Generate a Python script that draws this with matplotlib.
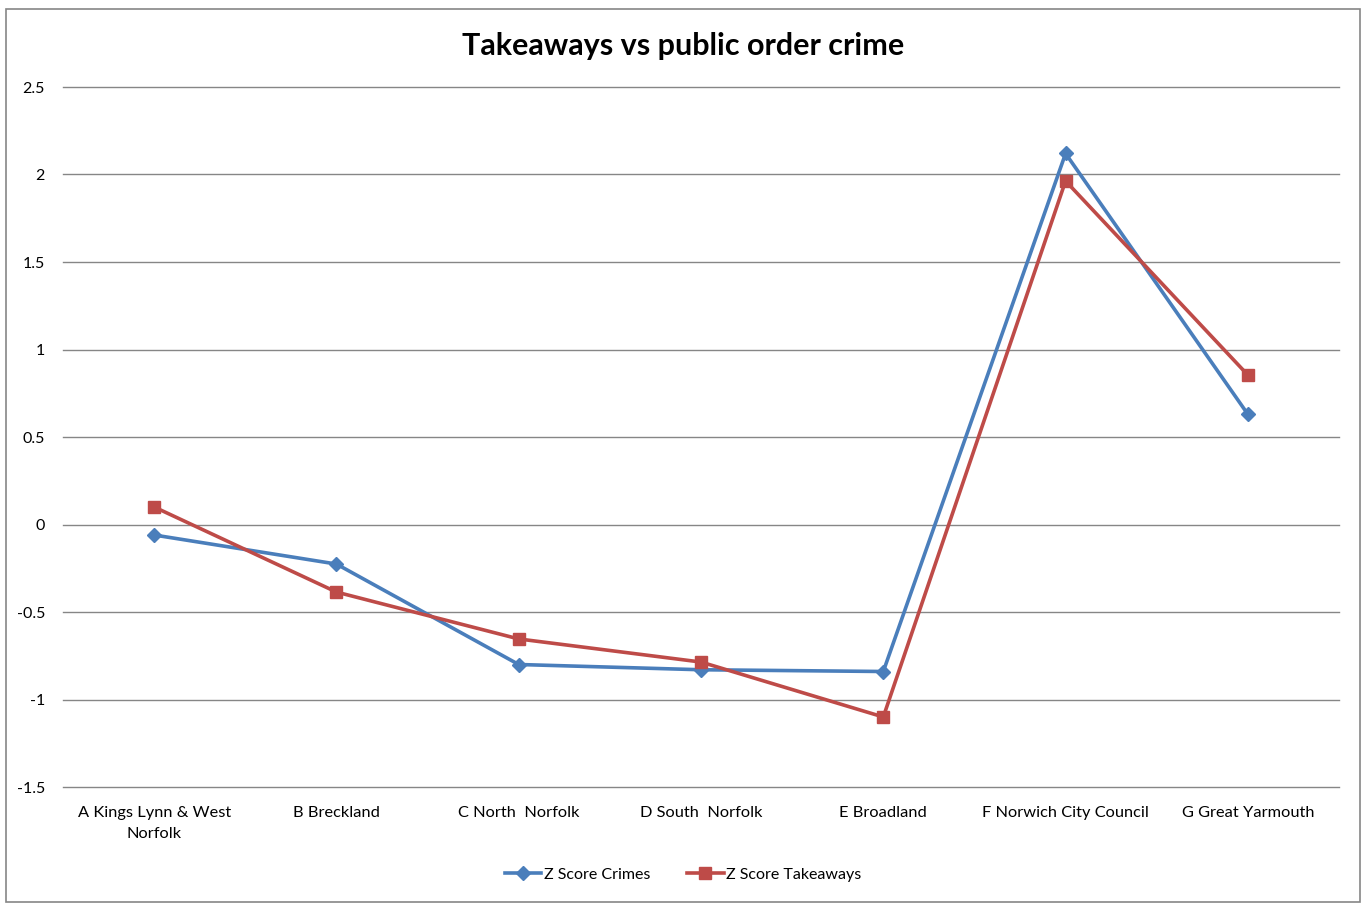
import matplotlib
matplotlib.use("Agg")
import matplotlib.pyplot as plt
from matplotlib.patches import Rectangle

categories = ["A Kings Lynn & West\nNorfolk", "B Breckland", "C North  Norfolk",
              "D South  Norfolk", "E Broadland", "F Norwich City Council", "G Great Yarmouth"]
crimes = [-0.06, -0.226, -0.80, -0.83, -0.84, 2.12, 0.63]
takeaways = [0.10, -0.386, -0.654, -0.786, -1.10, 1.963, 0.854]
yticks = [2.5, 2, 1.5, 1, 0.5, 0, -0.5, -1, -1.5]
ytick_labels = ["2.5", "2", "1.5", "1", "0.5", "0", "-0.5", "-1", "-1.5"]

plt.rcParams['font.family'] = ['Lato', 'DejaVu Sans']

fig = plt.figure(figsize=(13.67, 9.05), dpi=100)
ax = fig.add_axes([63/1367, 1-787/905, (1339-63)/1367, 700/905])

x = list(range(len(categories)))
ax.plot(x, crimes, color='#4A7EBB', lw=2.6, marker='D', ms=7, label='Z Score Crimes')
ax.plot(x, takeaways, color='#BE4B48', lw=2.6, marker='s', ms=8.5, label='Z Score Takeaways')

ax.set_xlim(-0.5, len(categories) - 0.5)
ax.set_ylim(-1.5, 2.5)
ax.set_yticks(yticks)
ax.set_yticklabels(ytick_labels, fontsize=11.5)
ax.set_xticks(x)
ax.set_xticklabels(categories, fontsize=11.8, linespacing=1.6)
ax.tick_params(axis='both', length=0, colors='black')
ax.tick_params(axis='y', pad=13)
ax.tick_params(axis='x', pad=14)
ax.grid(axis='y', color='#868686', lw=1)
for gl in ax.get_ygridlines():
    gl.set_clip_on(False)
ax.set_axisbelow(True)
for s in ax.spines.values():
    s.set_visible(False)

fig.text(683/1367, 1-46/905, "Takeaways vs public order crime", ha='center', va='center',
         fontsize=22, fontweight='bold')

fig.legend(loc='center', bbox_to_anchor=(683/1367, 1-875/905), ncol=2, frameon=False,
           fontsize=11.5, handlelength=2.3, handletextpad=0.15, columnspacing=2.3)

fig.patches.append(Rectangle((6/1367, 1-902/905), (1360-6)/1367, (902-9)/905,
                             transform=fig.transFigure, fill=False, ec='#868686', lw=1.2))

fig.savefig("out.png", dpi=100)
